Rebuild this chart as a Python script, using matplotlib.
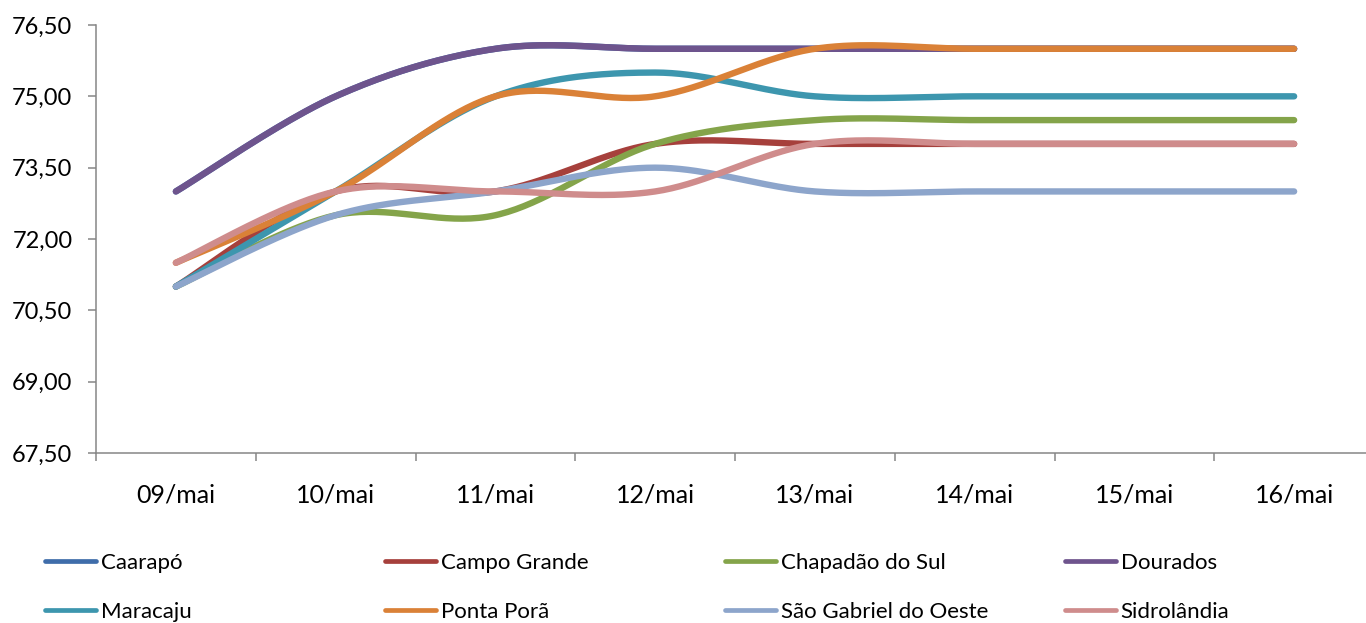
import numpy as np
import matplotlib.pyplot as plt
from matplotlib.ticker import FuncFormatter

dias = ["09/mai", "10/mai", "11/mai", "12/mai", "13/mai", "14/mai", "15/mai", "16/mai"]

caarapo = [73.0, 75.0, 76.0, 76.0, 76.0, 76.0, 76.0, 76.0]
campo_grande = [71.0, 73.0, 73.0, 74.0, 74.0, 74.0, 74.0, 74.0]
chapadao = [71.0, 72.5, 72.5, 74.0, 74.5, 74.5, 74.5, 74.5]
dourados = [73.0, 75.0, 76.0, 76.0, 76.0, 76.0, 76.0, 76.0]
maracaju = [71.0, 73.0, 75.0, 75.5, 75.0, 75.0, 75.0, 75.0]
ponta_pora = [71.5, 73.0, 75.0, 75.0, 76.0, 76.0, 76.0, 76.0]
sao_gabriel = [71.0, 72.5, 73.0, 73.5, 73.0, 73.0, 73.0, 73.0]
sidrolandia = [71.5, 73.0, 73.0, 73.0, 74.0, 74.0, 74.0, 74.0]

nomes = ["Caarapó", "Campo Grande", "Chapadão do Sul", "Dourados",
         "Maracaju", "Ponta Porã", "São Gabriel do Oeste", "Sidrolândia"]
series = [caarapo, campo_grande, chapadao, dourados,
          maracaju, ponta_pora, sao_gabriel, sidrolandia]
cores = ["#3F6DAA", "#A6403C", "#84A44A", "#6E548D",
         "#3D96AE", "#DA8137", "#8DA5CB", "#CF8C8C"]

plt.rcParams['font.family'] = ['Lato', 'DejaVu Sans']


def suaviza(x, y, n=40):
    # curva suavizada (bezier tipo catmull-rom, como no excel)
    p = np.column_stack([x, y]).astype(float)
    p_ext = np.vstack([p[0], p, p[-1]])
    out = []
    t = np.linspace(0, 1, n)[:, None]
    for i in range(len(p) - 1):
        p0, p1, p2, p3 = p_ext[i], p_ext[i + 1], p_ext[i + 2], p_ext[i + 3]
        c1 = p1 + (p2 - p0) / 6.0
        c2 = p2 - (p3 - p1) / 6.0
        seg = ((1 - t) ** 3) * p1 + 3 * ((1 - t) ** 2) * t * c1 + 3 * (1 - t) * t ** 2 * c2 + t ** 3 * p2
        out.append(seg if i == 0 else seg[1:])
    out = np.vstack(out)
    return out[:, 0], out[:, 1]


fig = plt.figure(figsize=(13.66, 6.23), dpi=100)
ax = fig.add_axes([96 / 1366, 170 / 623, 1278 / 1366, 428 / 623])

x = np.arange(len(dias))
linhas = []
for nome, vals, cor in zip(nomes, series, cores):
    xs, ys = suaviza(x, vals)
    ln, = ax.plot(xs, ys, color=cor, lw=4.6, solid_capstyle='round', label=nome)
    linhas.append(ln)

ax.set_xlim(-0.5, 7.5)
ax.set_ylim(67.5, 76.5)
ax.set_yticks(np.arange(67.5, 76.51, 1.5))
ax.yaxis.set_major_formatter(FuncFormatter(lambda v, _: f"{v:.2f}".replace('.', ',')))
ax.set_xticks(x)
ax.set_xticklabels(dias)
ax.set_xticks(np.arange(-0.5, 7.6, 1), minor=True)
ax.tick_params(axis='x', which='major', length=0, pad=22, labelsize=18)
ax.tick_params(axis='x', which='minor', length=6, width=1.1, color='#868686')
ax.tick_params(axis='y', length=6, width=1.1, color='#868686', pad=11, labelsize=17)

for s in ['top', 'right']:
    ax.spines[s].set_visible(False)
for s in ['left', 'bottom']:
    ax.spines[s].set_color('#868686')
    ax.spines[s].set_linewidth(1.1)

# legenda em 4 colunas, 2 linhas
col_x = [45, 385, 725, 1065]
row_y = [563, 612]
for i, ln in enumerate(linhas):
    cx = col_x[i % 4] / 1366
    cy = (623 - row_y[i // 4]) / 623
    h = plt.Line2D([], [], color=ln.get_color(), lw=3.4, solid_capstyle='round')
    fig.legend([h], [ln.get_label()], loc='center left', bbox_to_anchor=(cx, cy),
               frameon=False, borderpad=0, borderaxespad=0, handlelength=2.3,
               handletextpad=0.2, fontsize=16)

fig.savefig('out.png', dpi=100)
